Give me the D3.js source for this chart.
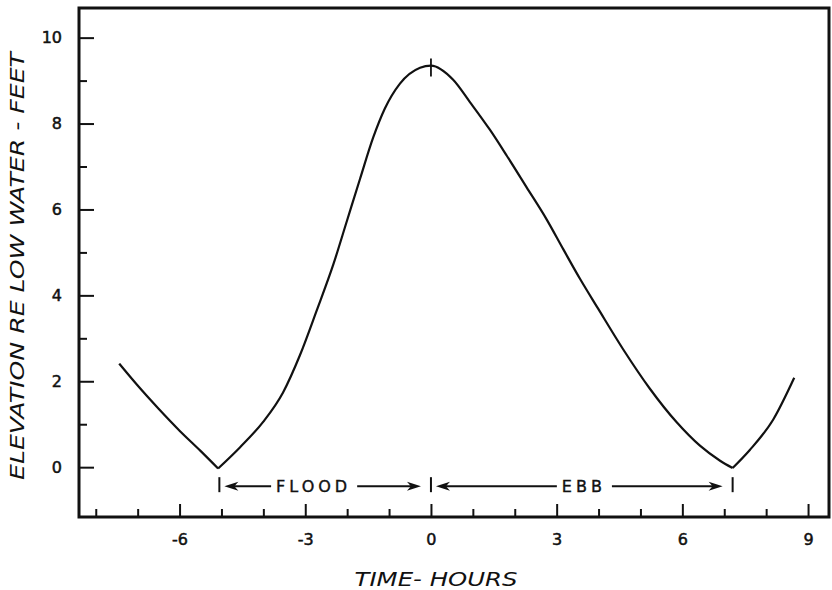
<!DOCTYPE html>
<html>
<head>
<meta charset="utf-8">
<script src="https://cdn.jsdelivr.net/npm/d3@7"></script>
<style>
  body { margin: 0; background: #fff; }
  svg text { font-family: "DejaVu Sans", sans-serif; fill: #111; }
</style>
</head>
<body>
<div id="chart"></div>
<script>
// tide curve (hours vs feet above low water)
var hours = [-7.44, -7.0, -6.5, -6.0, -5.5, -5.08, -4.56, -4.0, -3.53, -3.13, -2.73,
             -2.33, -2.01, -1.69, -1.38, -1.10, -0.74, -0.26, 0, 0.53, 0.93, 1.41, 1.81,
             2.28, 2.76, 3.16, 3.56, 3.99, 4.59, 5.23, 5.86, 6.42, 6.9, 7.2, 7.61, 8.17, 8.67];
var elevation = [2.41, 1.90, 1.36, 0.85, 0.38, -0.03, 0.46, 1.06, 1.74, 2.60, 3.64,
                 4.72, 5.72, 6.72, 7.67, 8.35, 8.93, 9.30, 9.35, 9.02, 8.50, 7.85, 7.25,
                 6.52, 5.77, 5.07, 4.38, 3.69, 2.74, 1.82, 1.05, 0.50, 0.15, -0.02, 0.40, 1.11, 2.08];

var xMajor = [-6, -3, 0, 3, 6, 9];
var xMinor = [-8, -7, -5, -4, -2, -1, 1, 2, 4, 5, 7, 8];
var yMajor = [0, 2, 4, 6, 8, 10];
var yMinor = [1, 3, 5, 7, 9];

// slack / high water marks and the phase labels between them
var tideMarks = [-5.05, 0, 7.2];
var phases = [
  {label: "FLOOD", from: -5.05, to: 0, at: -2.8},
  {label: "EBB", from: 0, to: 7.2, at: 3.65}
];

var margin = {top: 8, right: 3, bottom: 73, left: 79},
    width = 832 - margin.left - margin.right,
    height = 590 - margin.top - margin.bottom;

var svg = d3.select("#chart")
  .append("svg")
    .attr("width", 832)
    .attr("height", 590)
  .append("g")
    .attr("transform", "translate(" + margin.left + "," + margin.top + ")");

var x = d3.scaleLinear()
  .domain([-8.4, 9.5])
  .range([0, width]);

var y = d3.scaleLinear()
  .domain([-1.16, 10.69])
  .range([height, 0]);

// minor ticks
svg.append("g")
  .attr("transform", "translate(0," + height + ")")
  .call(d3.axisBottom(x).tickValues(xMinor).tickSize(-8).tickFormat(""));
svg.append("g")
  .call(d3.axisLeft(y).tickValues(yMinor).tickSize(-8).tickFormat(""));

// major ticks with labels
svg.append("g")
  .attr("class", "xmajor")
  .attr("transform", "translate(0," + height + ")")
  .call(d3.axisBottom(x).tickValues(xMajor).tickSize(-13).tickPadding(17).tickFormat(d3.format("d")));
svg.append("g")
  .attr("class", "ymajor")
  .call(d3.axisLeft(y).tickValues(yMajor).tickSize(-15).tickPadding(17).tickFormat(d3.format("d")));

svg.selectAll(".domain").remove();
svg.selectAll(".tick line").attr("stroke", "#111").attr("stroke-width", 2);
svg.selectAll(".tick text")
  .style("font-size", "16px")
  .style("font-family", "DejaVu Sans, sans-serif")
  .attr("fill", "#111")
  .attr("stroke", "#111")
  .attr("stroke-width", 0.5);
svg.selectAll(".xmajor .tick text").text(function(d) { return d < 0 ? "-" + Math.abs(d) : d; });

// frame
svg.append("rect")
  .attr("x", 0)
  .attr("y", 0)
  .attr("width", width)
  .attr("height", height)
  .attr("fill", "none")
  .attr("stroke", "#111")
  .attr("stroke-width", 3);

// curve, drawn in pieces so the low water points stay sharp
var line = d3.line()
  .x(function(i) { return x(hours[i]); })
  .y(function(i) { return y(elevation[i]); })
  .curve(d3.curveMonotoneX);

var lows = [hours.indexOf(-5.08), hours.indexOf(7.2)];
var pieces = [
  d3.range(0, lows[0] + 1),
  d3.range(lows[0], lows[1] + 1),
  d3.range(lows[1], hours.length)
];

svg.selectAll(".tide")
  .data(pieces)
  .enter()
  .append("path")
    .attr("class", "tide")
    .attr("d", line)
    .attr("fill", "none")
    .attr("stroke", "#111")
    .attr("stroke-width", 2.2)
    .attr("stroke-linejoin", "round");

// small cross at high water
svg.append("line")
  .attr("x1", x(0)).attr("x2", x(0))
  .attr("y1", y(9.35) - 7).attr("y2", y(9.35) + 11)
  .attr("stroke", "#111").attr("stroke-width", 1.8);

// phase marks below the curve
var markTop = y(0) + 10, markBot = y(0) + 25, arrowY = y(0) + 19;

svg.selectAll(".mark")
  .data(tideMarks)
  .enter()
  .append("line")
    .attr("class", "mark")
    .attr("x1", function(d) { return x(d); })
    .attr("x2", function(d) { return x(d); })
    .attr("y1", markTop)
    .attr("y2", markBot)
    .attr("stroke", "#111")
    .attr("stroke-width", 2);

function arrow(x0, x1) {
  // shaft from x0, filled head pointing at x1
  var dir = x1 > x0 ? 1 : -1;
  svg.append("line")
    .attr("x1", x0).attr("x2", x1 - dir * 8)
    .attr("y1", arrowY).attr("y2", arrowY)
    .attr("stroke", "#111").attr("stroke-width", 2);
  svg.append("path")
    .attr("d", "M" + x1 + "," + arrowY +
               "L" + (x1 - dir * 14) + "," + (arrowY - 4.5) +
               "L" + (x1 - dir * 10) + "," + arrowY +
               "L" + (x1 - dir * 14) + "," + (arrowY + 4.5) + "Z")
    .attr("fill", "#111");
}

phases.forEach(function(p) {
  var t = svg.append("text")
    .attr("x", x(p.at))
    .attr("y", arrowY)
    .attr("dy", "0.36em")
    .attr("text-anchor", "middle")
    .attr("stroke", "#111")
    .attr("stroke-width", 0.4)
    .style("font-size", "16px")
    .style("letter-spacing", "4px")
    .text(p.label);
  var w = t.node().getComputedTextLength();
  arrow(x(p.at) - w / 2 - 5, x(p.from) + 5);
  arrow(x(p.at) + w / 2 + 6, x(p.to) - 10);
});

// axis titles
svg.append("text")
  .attr("x", 436 - margin.left)
  .attr("y", 586 - margin.top)
  .attr("text-anchor", "middle")
  .attr("textLength", 163)
  .attr("lengthAdjust", "spacingAndGlyphs")
  .style("font-size", "20px")
  .style("font-style", "italic")
  .text("TIME- HOURS");

svg.append("text")
  .attr("transform", "translate(" + (24 - margin.left) + "," + (266 - margin.top) + ") rotate(-90)")
  .attr("text-anchor", "middle")
  .attr("textLength", 428)
  .attr("lengthAdjust", "spacingAndGlyphs")
  .style("font-size", "20px")
  .style("font-style", "italic")
  .text("ELEVATION RE LOW WATER - FEET");
</script>
</body>
</html>
